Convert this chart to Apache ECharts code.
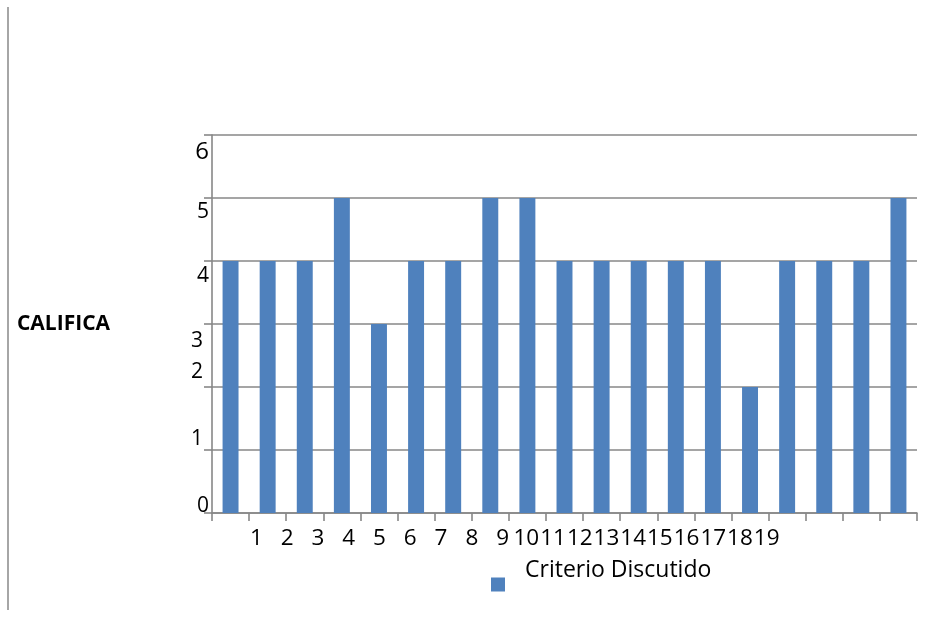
<!DOCTYPE html>
<html>
<head>
<meta charset="utf-8">
<script src="https://cdn.jsdelivr.net/npm/echarts@6/dist/echarts.min.js"></script>
<style>
html,body{margin:0;padding:0;background:#fff;}
#chart{width:930px;height:619px;}
</style>
</head>
<body>
<div id="chart"></div>
<script>
// ---- data ----
const categories = ['1','2','3','4','5','6','7','8','9','10','11','12','13','14','15','16','17','18','19'];
const values = [4,4,4,5,3,4,4,5,5,4,4,4,4,4,2,4,4,4,5];
const xTickLabels = ['1','2','3','4','5','6','7','8','9','10','11','12','13','14','15','16','17','18','19'];
const yTicks = [0,1,2,3,4,5,6];
const seriesName = 'Criterio Discutido';
const yAxisTitle = 'CALIFICA';

// ---- styling (label nudges to mimic the original's irregular placement) ----
const FONT = 'Open Sans';
const yLabelNudge = { // [down shift px, extra right gap px, fontSize]
  0: [-7, 0, 21], 1: [-11, 6, 21], 2: [-14.5, 6, 21], 3: [17, 6, 21],
  4: [15, 0, 21], 5: [14.5, 0, 21], 6: [17, -3, 24]
};
const yRich = {};
yTicks.forEach(v => {
  const [dy, dx, fs] = yLabelNudge[v];
  yRich['v' + v] = {
    fontFamily: FONT, fontSize: fs, color: '#000',
    padding: [dy > 0 ? 2 * dy : 0, dx > 0 ? dx : 0, dy < 0 ? -2 * dy : 0, 0]
  };
});

const chart = echarts.init(document.getElementById('chart'), null, {renderer: 'canvas'});
const gridLine = '#878787';
const xLabelStyle = {show: true, interval: 0, margin: 14, fontFamily: FONT, fontSize: 22.5, color: '#000'};
const option = {
  backgroundColor: '#fff',
  animation: false,
  grid: [
    {left: 212, right: 13, top: 135, bottom: 106},
    {left: 241, width: 277, top: 135, bottom: 106},
    {left: 513, width: 267, top: 135, bottom: 106}
  ],
  legend: {
    data: [seriesName],
    left: 491, top: 559, padding: 0,
    icon: 'rect', itemWidth: 14, itemHeight: 14,
    formatter: n => '{t|' + n + '}',
    textStyle: {
      rich: { t: { fontFamily: FONT, fontSize: 23, color: '#000', padding: [0, 0, 28, 15] } }
    }
  },
  xAxis: [
    {
      type: 'category', gridIndex: 0, data: categories,
      axisLine: {show: true, lineStyle: {color: gridLine, width: 1.6}},
      axisTick: {show: true, length: 8, lineStyle: {color: gridLine, width: 1.6}},
      axisLabel: {show: false},
      splitLine: {show: false}
    },
    {
      type: 'category', gridIndex: 1, data: xTickLabels.slice(0, 9),
      axisLine: {show: false}, axisTick: {show: false}, splitLine: {show: false},
      axisLabel: xLabelStyle
    },
    {
      type: 'category', gridIndex: 2, data: xTickLabels.slice(9),
      axisLine: {show: false}, axisTick: {show: false}, splitLine: {show: false},
      axisLabel: xLabelStyle
    }
  ],
  yAxis: [
    {
      type: 'value', gridIndex: 0, min: 0, max: 6, interval: 1,
      name: yAxisTitle, nameLocation: 'middle', nameRotate: 0, nameGap: 102,
      nameTextStyle: {fontFamily: FONT, fontWeight: 'bold', fontSize: 21, color: '#000', align: 'right', verticalAlign: 'middle'},
      axisLine: {show: true, lineStyle: {color: gridLine, width: 1.6}},
      axisTick: {show: true, length: 8, lineStyle: {color: gridLine, width: 1.6}},
      splitLine: {show: true, lineStyle: {color: gridLine, width: 1.6}},
      axisLabel: {
        margin: 3,
        formatter: v => '{v' + v + '|' + v + '}',
        rich: yRich
      }
    },
    {type: 'value', gridIndex: 1, show: false},
    {type: 'value', gridIndex: 2, show: false}
  ],
  series: [{
    name: seriesName, type: 'bar', xAxisIndex: 0, yAxisIndex: 0,
    data: values, barWidth: '43%',
    itemStyle: {color: '#4F81BD'}
  }],
  graphic: [{
    type: 'line', silent: true,
    shape: {x1: 8, y1: 7, x2: 8, y2: 610},
    style: {stroke: '#a6a6a6', lineWidth: 2}
  }]
};
chart.setOption(option);
</script>
</body>
</html>
